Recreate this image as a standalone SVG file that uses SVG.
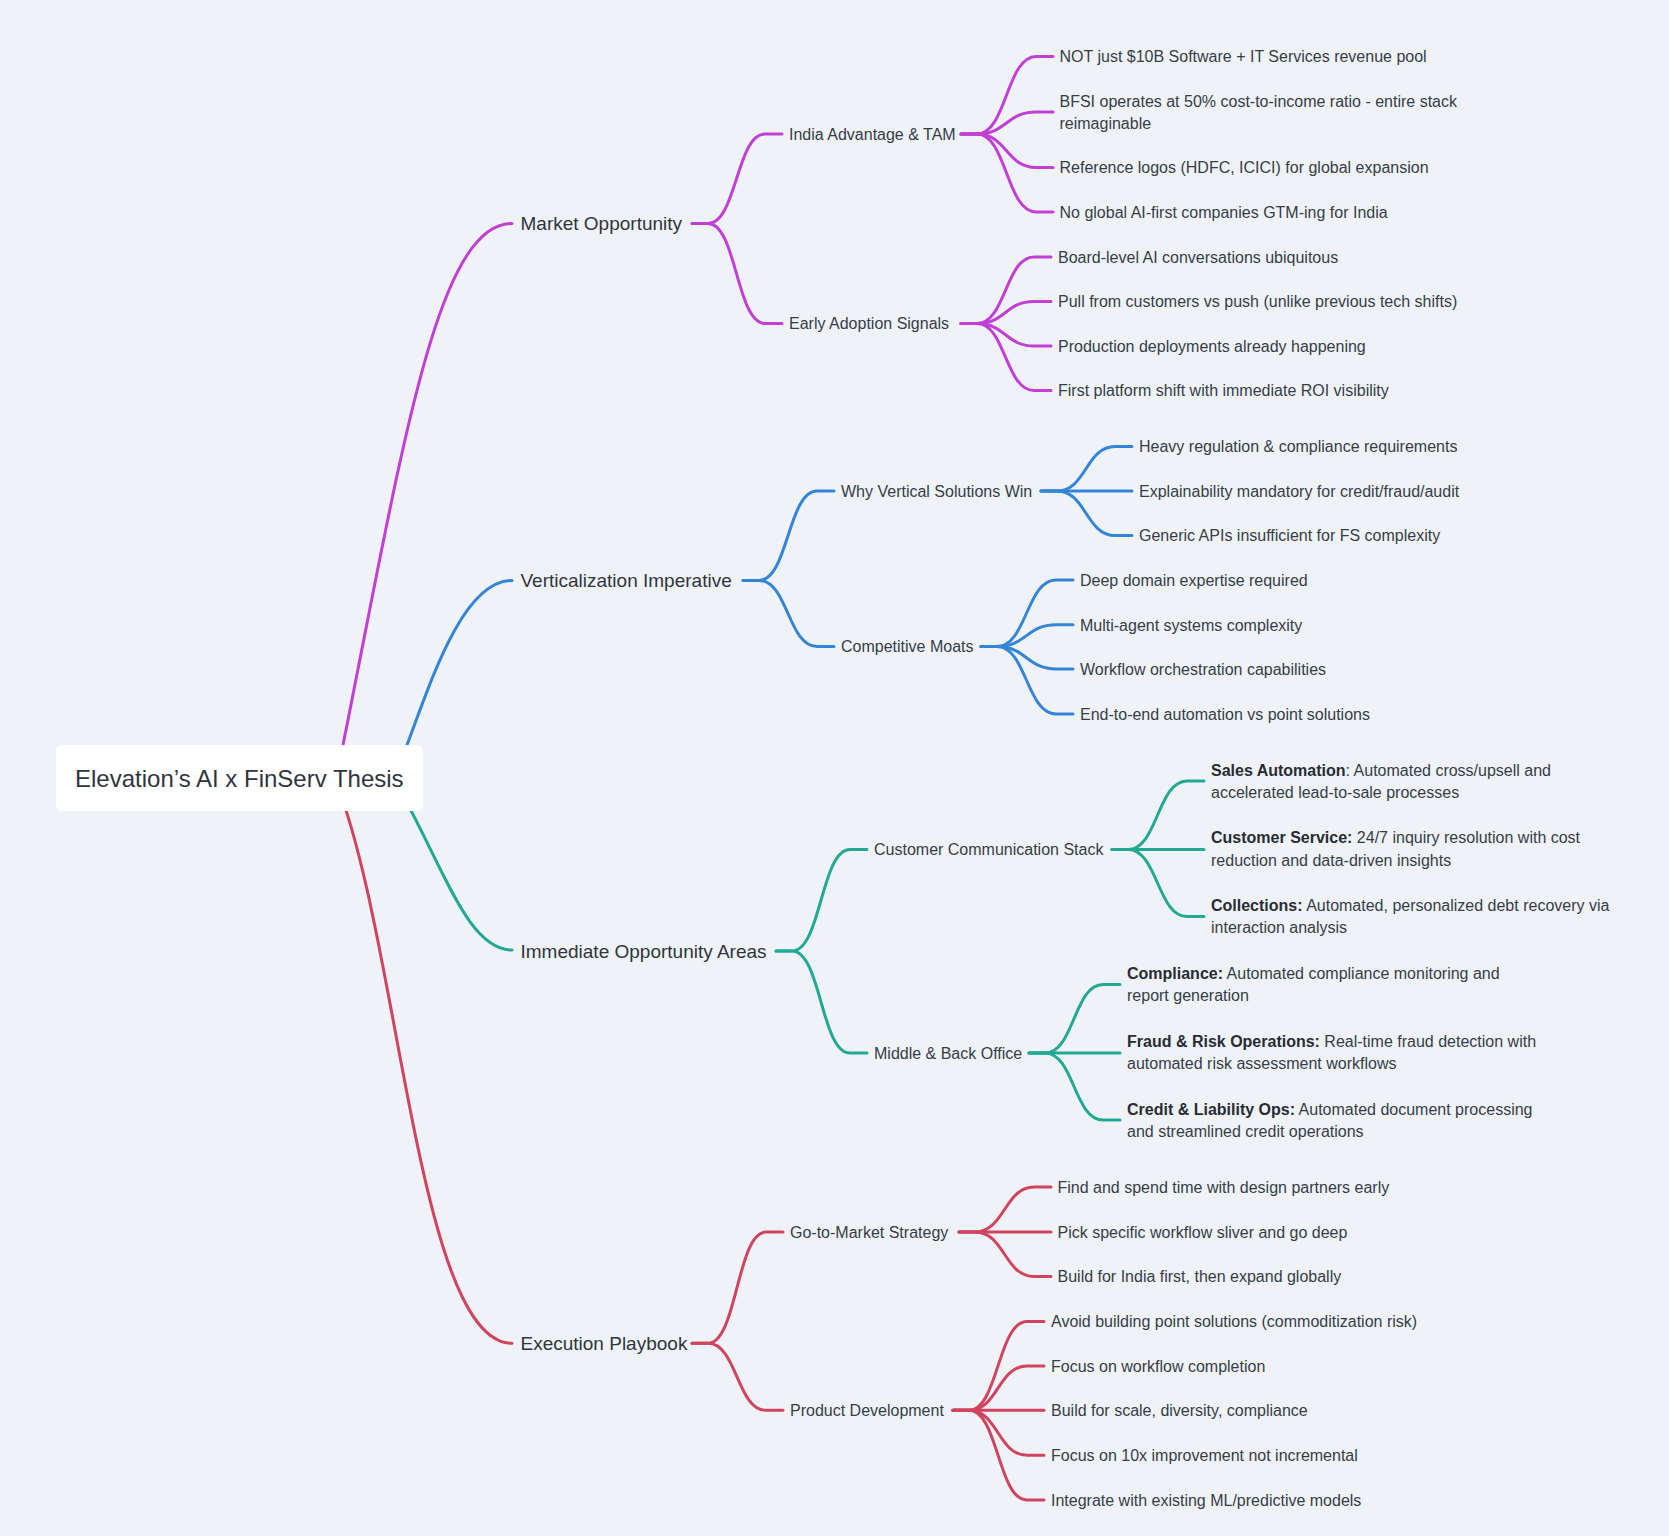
<svg xmlns="http://www.w3.org/2000/svg" width="1669" height="1536" viewBox="0 0 1669 1536">
<style>
text{font-family:"Liberation Sans",Arial,sans-serif;fill:#363d47}
.root{font-size:24px;fill:#2f353e}
.l1{font-size:19px;fill:#2f353e}
.l2{font-size:16px}
.l3{font-size:16px}
.b{font-weight:bold;fill:#272c34}
path{fill:none;stroke-width:3;stroke-linecap:round;stroke-linejoin:round}
.pk{stroke:#c13fd5}
.bl{stroke:#3585d6}
.tl{stroke:#21a994}
.rd{stroke:#d0445f}
</style>
<rect width="1669" height="1536" fill="#eff3f7"/>
<g id="connectors">
<path class="pk" d="M336 780 L343 745 C403 445 437 223.5 512 223.5"/>
<path class="bl" d="M395 776 L407 745 C429.8 685 462 580.5 512 580.5"/>
<path class="tl" d="M395 780 L412 812.5 C448.4 882.5 472 950 512 950"/>
<path class="rd" d="M336 782 C399.7 942.4 418.4 1343.3 512 1343.3"/>
<path class="pk" d="M692 223.5 H708 C736.5 223.5 736.5 134 765 134 H782"/>
<path class="pk" d="M692 223.5 H708 C736.5 223.5 736.5 323.6 765 323.6 H782"/>
<path class="pk" d="M961 134 H977 C1006.5 134 1006.5 56.4 1036 56.4 H1053"/>
<path class="pk" d="M961 134 H977 C1006.5 134 1006.5 112 1036 112 H1053"/>
<path class="pk" d="M961 134 H977 C1006.5 134 1006.5 167.5 1036 167.5 H1053"/>
<path class="pk" d="M961 134 H977 C1006.5 134 1006.5 212 1036 212 H1053"/>
<path class="pk" d="M961 323.6 H977 C1005.5 323.6 1005.5 257 1034 257 H1051"/>
<path class="pk" d="M961 323.6 H977 C1005.5 323.6 1005.5 301.5 1034 301.5 H1051"/>
<path class="pk" d="M961 323.6 H977 C1005.5 323.6 1005.5 346 1034 346 H1051"/>
<path class="pk" d="M961 323.6 H977 C1005.5 323.6 1005.5 390.5 1034 390.5 H1051"/>
<path class="bl" d="M743 580.5 H759 C788 580.5 788 491 817 491 H834"/>
<path class="bl" d="M743 580.5 H759 C788 580.5 788 646.5 817 646.5 H834"/>
<path class="bl" d="M1041 491 H1057 C1086 491 1086 446.5 1115 446.5 H1132"/>
<path class="bl" d="M1041 491 H1132"/>
<path class="bl" d="M1041 491 H1057 C1086 491 1086 535.5 1115 535.5 H1132"/>
<path class="bl" d="M981 646.5 H997 C1026.5 646.5 1026.5 580 1056 580 H1073"/>
<path class="bl" d="M981 646.5 H997 C1026.5 646.5 1026.5 624.7 1056 624.7 H1073"/>
<path class="bl" d="M981 646.5 H997 C1026.5 646.5 1026.5 669 1056 669 H1073"/>
<path class="bl" d="M981 646.5 H997 C1026.5 646.5 1026.5 714 1056 714 H1073"/>
<path class="tl" d="M776 951 H792 C821 951 821 849.5 850 849.5 H867"/>
<path class="tl" d="M776 951 H792 C821 951 821 1053 850 1053 H867"/>
<path class="tl" d="M1112 849.5 H1128 C1157.5 849.5 1157.5 781 1187 781 H1204"/>
<path class="tl" d="M1112 849.5 H1204"/>
<path class="tl" d="M1112 849.5 H1128 C1157.5 849.5 1157.5 916.5 1187 916.5 H1204"/>
<path class="tl" d="M1029 1053 H1045 C1074 1053 1074 984.5 1103 984.5 H1120"/>
<path class="tl" d="M1029 1053 H1120"/>
<path class="tl" d="M1029 1053 H1045 C1074 1053 1074 1120 1103 1120 H1120"/>
<path class="rd" d="M692 1343.3 H708 C737 1343.3 737 1232 766 1232 H783"/>
<path class="rd" d="M692 1343.3 H708 C737 1343.3 737 1410.3 766 1410.3 H783"/>
<path class="rd" d="M959 1232 H975 C1004.5 1232 1004.5 1187 1034 1187 H1051"/>
<path class="rd" d="M959 1232 H1051"/>
<path class="rd" d="M959 1232 H975 C1004.5 1232 1004.5 1276.5 1034 1276.5 H1051"/>
<path class="rd" d="M953 1410.3 H969 C998 1410.3 998 1321.5 1027 1321.5 H1044"/>
<path class="rd" d="M953 1410.3 H969 C998 1410.3 998 1366 1027 1366 H1044"/>
<path class="rd" d="M953 1410.3 H1044"/>
<path class="rd" d="M953 1410.3 H969 C998 1410.3 998 1455.3 1027 1455.3 H1044"/>
<path class="rd" d="M953 1410.3 H969 C998 1410.3 998 1500 1027 1500 H1044"/>
</g>
<g id="root">
<rect x="56" y="745" width="367" height="66" rx="6" fill="#ffffff"/>
<text class="root" x="75" y="787">Elevation’s AI x FinServ Thesis</text>
</g>
<g id="market-opportunity"><text class="l1" x="520.5" y="230.3">Market Opportunity</text></g>
<g id="india-advantage"><text class="l2" x="789" y="139.9">India Advantage &amp; TAM</text></g>
<g id="mo-1"><text class="l3" x="1059.5" y="62.2">NOT just $10B Software + IT Services revenue pool</text></g>
<g id="mo-2"><text class="l3" x="1059.5" y="106.8">BFSI operates at 50% cost-to-income ratio - entire stack</text><text class="l3" x="1059.5" y="129.1">reimaginable</text></g>
<g id="mo-3"><text class="l3" x="1059.5" y="173.3">Reference logos (HDFC, ICICI) for global expansion</text></g>
<g id="mo-4"><text class="l3" x="1059.5" y="217.8">No global AI-first companies GTM-ing for India</text></g>
<g id="early-adoption"><text class="l2" x="789" y="329.4">Early Adoption Signals</text></g>
<g id="ea-1"><text class="l3" x="1058" y="262.8">Board-level AI conversations ubiquitous</text></g>
<g id="ea-2"><text class="l3" x="1058" y="307.3">Pull from customers vs push (unlike previous tech shifts)</text></g>
<g id="ea-3"><text class="l3" x="1058" y="351.8">Production deployments already happening</text></g>
<g id="ea-4"><text class="l3" x="1058" y="396.3">First platform shift with immediate ROI visibility</text></g>
<g id="verticalization"><text class="l1" x="520.5" y="587.3">Verticalization Imperative</text></g>
<g id="why-vertical"><text class="l2" x="841" y="496.8">Why Vertical Solutions Win</text></g>
<g id="wv-1"><text class="l3" x="1139" y="452.3">Heavy regulation &amp; compliance requirements</text></g>
<g id="wv-2"><text class="l3" x="1139" y="496.8">Explainability mandatory for credit/fraud/audit</text></g>
<g id="wv-3"><text class="l3" x="1139" y="541.3">Generic APIs insufficient for FS complexity</text></g>
<g id="competitive-moats"><text class="l2" x="841" y="652.3">Competitive Moats</text></g>
<g id="cm-1"><text class="l3" x="1080" y="585.8">Deep domain expertise required</text></g>
<g id="cm-2"><text class="l3" x="1080" y="630.5">Multi-agent systems complexity</text></g>
<g id="cm-3"><text class="l3" x="1080" y="674.8">Workflow orchestration capabilities</text></g>
<g id="cm-4"><text class="l3" x="1080" y="719.8">End-to-end automation vs point solutions</text></g>
<g id="immediate-opportunity"><text class="l1" x="520.5" y="957.8">Immediate Opportunity Areas</text></g>
<g id="customer-communication"><text class="l2" x="874" y="855.3">Customer Communication Stack</text></g>
<g id="cc-1"><text class="l3" x="1211" y="775.8"><tspan class="b">Sales Automation</tspan>: Automated cross/upsell and</text><text class="l3" x="1211" y="798.3">accelerated lead-to-sale processes</text></g>
<g id="cc-2"><text class="l3" x="1211" y="843.3"><tspan class="b">Customer Service:</tspan> 24/7 inquiry resolution with cost</text><text class="l3" x="1211" y="865.8">reduction and data-driven insights</text></g>
<g id="cc-3"><text class="l3" x="1211" y="911.3"><tspan class="b">Collections:</tspan> Automated, personalized debt recovery via</text><text class="l3" x="1211" y="933.3">interaction analysis</text></g>
<g id="middle-back-office"><text class="l2" x="874" y="1058.8">Middle &amp; Back Office</text></g>
<g id="mb-1"><text class="l3" x="1127" y="978.8"><tspan class="b">Compliance:</tspan> Automated compliance monitoring and</text><text class="l3" x="1127" y="1001.3">report generation</text></g>
<g id="mb-2"><text class="l3" x="1127" y="1046.8"><tspan class="b">Fraud &amp; Risk Operations:</tspan> Real-time fraud detection with</text><text class="l3" x="1127" y="1068.8">automated risk assessment workflows</text></g>
<g id="mb-3"><text class="l3" x="1127" y="1114.8"><tspan class="b">Credit &amp; Liability Ops:</tspan> Automated document processing</text><text class="l3" x="1127" y="1136.8">and streamlined credit operations</text></g>
<g id="execution-playbook"><text class="l1" x="520.5" y="1350">Execution Playbook</text></g>
<g id="go-to-market"><text class="l2" x="790" y="1237.8">Go-to-Market Strategy</text></g>
<g id="gm-1"><text class="l3" x="1057.5" y="1192.8">Find and spend time with design partners early</text></g>
<g id="gm-2"><text class="l3" x="1057.5" y="1237.8">Pick specific workflow sliver and go deep</text></g>
<g id="gm-3"><text class="l3" x="1057.5" y="1282.3">Build for India first, then expand globally</text></g>
<g id="product-development"><text class="l2" x="790" y="1416">Product Development</text></g>
<g id="pd-1"><text class="l3" x="1051" y="1327.3">Avoid building point solutions (commoditization risk)</text></g>
<g id="pd-2"><text class="l3" x="1051" y="1371.8">Focus on workflow completion</text></g>
<g id="pd-3"><text class="l3" x="1051" y="1416.3">Build for scale, diversity, compliance</text></g>
<g id="pd-4"><text class="l3" x="1051" y="1461.1">Focus on 10x improvement not incremental</text></g>
<g id="pd-5"><text class="l3" x="1051" y="1505.8">Integrate with existing ML/predictive models</text></g>
</svg>
